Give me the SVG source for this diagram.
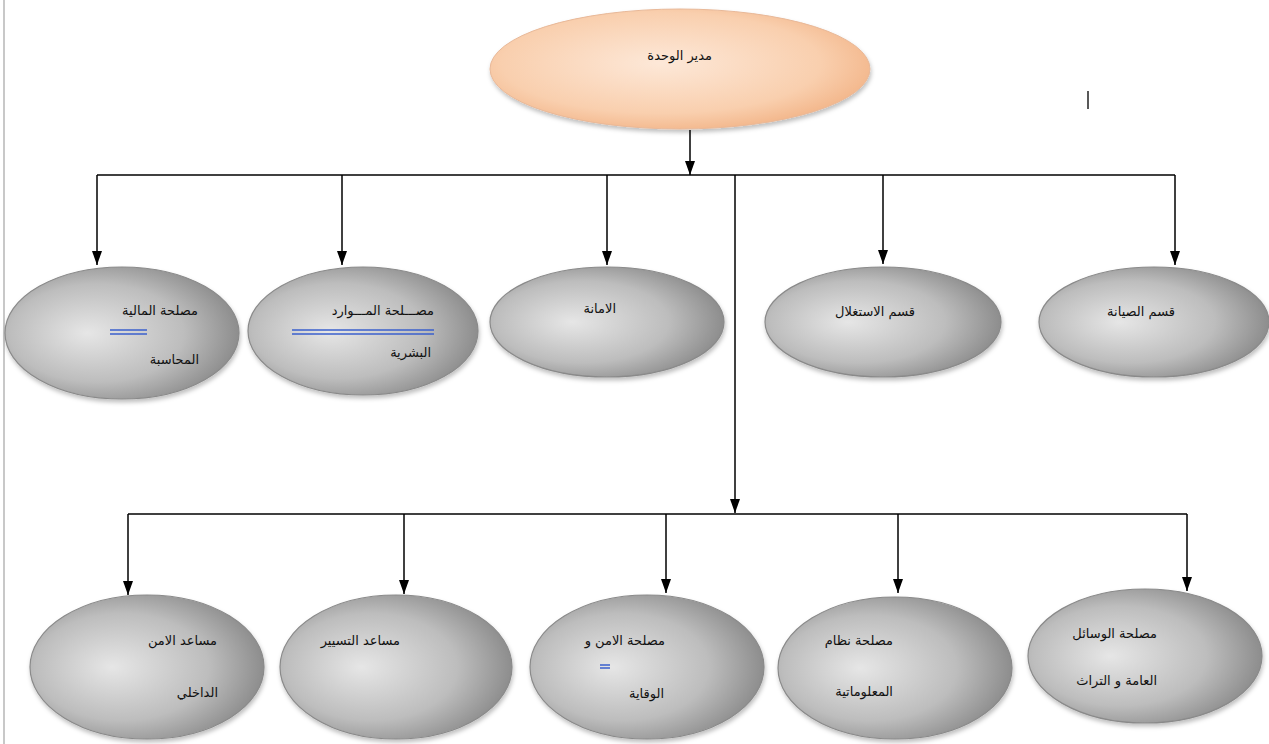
<svg xmlns="http://www.w3.org/2000/svg" width="1269" height="744" viewBox="0 0 1269 744">
<style>
.n{fill:url(#g);stroke:#8a8a8a;stroke-width:1.2}
.t{font-family:"DejaVu Sans",sans-serif;font-size:13px;fill:#111;text-anchor:end}
.c{fill:none;stroke:#000;stroke-width:1.5}
.u{stroke:#3a5fcd;stroke-width:1.5}
</style>
<defs>
<radialGradient id="g" cx="0.42" cy="0.5" r="0.62" fx="0.35" fy="0.5">
<stop offset="0" stop-color="#e6e6e6"/>
<stop offset="0.6" stop-color="#bdbdbd"/>
<stop offset="1" stop-color="#858585"/>
</radialGradient>
<radialGradient id="p" cx="0.45" cy="0.45" r="0.6">
<stop offset="0" stop-color="#fde8d8"/>
<stop offset="0.7" stop-color="#f9cfae"/>
<stop offset="1" stop-color="#f2b386"/>
</radialGradient>
<filter id="s" x="-10%" y="-10%" width="120%" height="125%">
<feDropShadow dx="1" dy="3" stdDeviation="2" flood-color="#000" flood-opacity="0.25"/>
</filter>
<marker id="a" markerWidth="14" markerHeight="10" refX="14" refY="5" orient="auto" markerUnits="userSpaceOnUse" viewBox="0 0 14 10">
<path d="M0,0 L14,5 L0,10 Z" fill="#000"/>
</marker>
</defs>
<rect width="1269" height="744" fill="#fff"/>
<line x1="4" y1="0" x2="4" y2="744" stroke="#c8c8c8" stroke-width="2"/>
<line x1="1088" y1="91" x2="1088" y2="109" stroke="#222" stroke-width="1.5"/>

<g id="connectors">
<path class="c" d="M690,130 V175" marker-end="url(#a)"/>
<path class="c" d="M97,175 H1175"/>
<path class="c" d="M97,175 V265" marker-end="url(#a)"/>
<path class="c" d="M342,175 V265" marker-end="url(#a)"/>
<path class="c" d="M607,175 V265" marker-end="url(#a)"/>
<path class="c" d="M883,175 V264" marker-end="url(#a)"/>
<path class="c" d="M1175,175 V265" marker-end="url(#a)"/>
<path class="c" d="M735,175 V513" marker-end="url(#a)"/>
<path class="c" d="M128,514 H1187"/>
<path class="c" d="M128,514 V595" marker-end="url(#a)"/>
<path class="c" d="M404,514 V594" marker-end="url(#a)"/>
<path class="c" d="M666,514 V593" marker-end="url(#a)"/>
<path class="c" d="M898,514 V593" marker-end="url(#a)"/>
<path class="c" d="M1187,514 V591" marker-end="url(#a)"/>
</g>

<g id="director">
<ellipse cx="680" cy="69" rx="190" ry="60" fill="url(#p)" stroke="#e8b898" stroke-width="1" filter="url(#s)"/>
<text class="t" x="712" y="60">مدير الوحدة</text>
</g>

<g id="finance">
<ellipse class="n" cx="122" cy="333" rx="117" ry="66" filter="url(#s)"/>
<text class="t" x="198" y="315">مصلحة المالية</text>
<line class="u" x1="110" y1="330" x2="147" y2="330"/>
<line class="u" x1="110" y1="334" x2="147" y2="334"/>
<text class="t" x="199" y="364">المحاسبة</text>
</g>

<g id="hr">
<ellipse class="n" cx="363" cy="331" rx="115" ry="64" filter="url(#s)"/>
<text class="t" x="434" y="315">مصـــلحة المـــوارد</text>
<line class="u" x1="292" y1="330" x2="434" y2="330"/>
<line class="u" x1="292" y1="334" x2="434" y2="334"/>
<text class="t" x="431" y="357">البشرية</text>
</g>

<g id="secretariat">
<ellipse class="n" cx="607" cy="322" rx="117" ry="55" filter="url(#s)"/>
<text class="t" x="616" y="313">الامانة</text>
</g>

<g id="operations">
<ellipse class="n" cx="883" cy="322" rx="118" ry="55" filter="url(#s)"/>
<text class="t" x="915" y="316">قسم الاستغلال</text>
</g>

<g id="maintenance">
<ellipse class="n" cx="1154" cy="322" rx="115" ry="55" filter="url(#s)"/>
<text class="t" x="1175" y="316">قسم الصيانة</text>
</g>

<g id="internal-security">
<ellipse class="n" cx="147" cy="667" rx="117" ry="72" filter="url(#s)"/>
<text class="t" x="217" y="645">مساعد الامن</text>
<text class="t" x="218" y="697">الداخلي</text>
</g>

<g id="management">
<ellipse class="n" cx="396" cy="667" rx="116" ry="72" filter="url(#s)"/>
<text class="t" x="400" y="645">مساعد التسيير</text>
</g>

<g id="security">
<ellipse class="n" cx="647" cy="667" rx="117" ry="72" filter="url(#s)"/>
<text class="t" x="665" y="645">مصلحة الامن و</text>
<line class="u" x1="600" y1="665" x2="610" y2="665"/>
<line class="u" x1="600" y1="668" x2="610" y2="668"/>
<text class="t" x="664" y="698">الوقاية</text>
</g>

<g id="it">
<ellipse class="n" cx="895" cy="668" rx="117" ry="71" filter="url(#s)"/>
<text class="t" x="893" y="645">مصلحة نظام</text>
<text class="t" x="893" y="696">المعلوماتية</text>
</g>

<g id="general-means">
<ellipse class="n" cx="1145" cy="656" rx="117" ry="67" filter="url(#s)"/>
<text class="t" x="1157" y="638">مصلحة الوسائل</text>
<text class="t" x="1157" y="685">العامة و التراث</text>
</g>
</svg>
